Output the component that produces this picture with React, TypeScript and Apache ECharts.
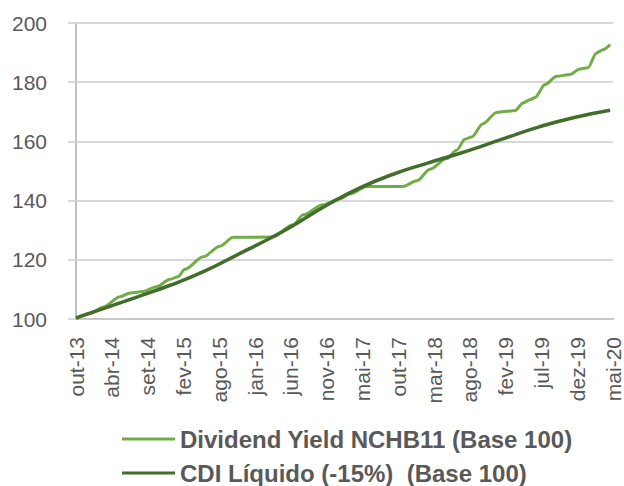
import React, { useEffect, useRef } from "react";
import * as echarts from "echarts";

const xLabels = [
  "out-13", "abr-14", "set-14", "fev-15", "ago-15", "jan-16", "jun-16", "nov-16",
  "mai-17", "out-17", "mar-18", "ago-18", "fev-19", "jul-19", "dez-19", "mai-20",
];

const yTicks = { min: 100, max: 200, step: 20 };

const seriesNames = ["Dividend Yield NCHB11 (Base 100)", "CDI Líquido (-15%)  (Base 100)"];

// [position on the label axis, value]
const dividendYield: [number, number][] = [
  [0, 100], [0.39, 101.9], [0.76, 104.0], [1.23, 107.5], [1.51, 108.8], [1.87, 109.3],
  [2.25, 110.9], [2.63, 113.4], [2.85, 114.3], [3.04, 116.8], [3.55, 121], [4.02, 124.6],
  [4.39, 127.6], [5.5, 127.7], [6.06, 131.8], [6.35, 135.2], [6.9, 138.6], [7.37, 140.6],
  [7.65, 142.2], [8.12, 144.8], [9.13, 144.8], [9.52, 146.7], [9.89, 150.6], [10.35, 154.2],
  [10.63, 157.0], [10.87, 160.8], [11.05, 161.5], [11.37, 166.0], [11.75, 169.8],
  [12.03, 170.2], [12.26, 170.4], [12.49, 173], [12.68, 174.1], [12.82, 174.8],
  [13.1, 179.2], [13.43, 182], [13.8, 182.6], [14.08, 184.5], [14.3, 184.9],
  [14.54, 189.9], [14.72, 191], [14.92, 192.7],
];

const cdiLiquido: [number, number][] = [
  [0, 100.4], [0.76, 103.5], [1.7, 107.4], [2.63, 111.4], [3.56, 116.0], [4.49, 121.6],
  [5.42, 127.3], [6.07, 131.6], [7.0, 138.4], [7.93, 144.3], [8.86, 148.9], [9.8, 152.6],
  [10.73, 156.0], [11.38, 158.6], [12.03, 161.3], [12.96, 165.0], [13.89, 168.0],
  [14.92, 170.5],
];

const colors = ["#70AD47", "#426D2A"];

export default function App() {
  const ref = useRef<HTMLDivElement>(null);
  useEffect(() => {
    const chart = echarts.init(ref.current!, null, { renderer: "svg" });
    const font = "'Liberation Sans', Arial, sans-serif";
    const legendBase = {
      orient: "horizontal",
      left: 122,
      padding: 0,
      itemWidth: 53,
      itemHeight: 3,
      icon: "rect",
      textStyle: {
        fontSize: 24,
        lineHeight: 24,
        fontWeight: "bold",
        color: "#595959",
        fontFamily: font,
      },
    };
    chart.setOption({
      animation: false,
      backgroundColor: "#ffffff",
      grid: { left: 76, right: 11, top: 23, bottom: 167, containLabel: false },
      xAxis: {
        type: "value",
        min: 0,
        max: xLabels.length - 1,
        interval: 1,
        axisLine: { show: true, lineStyle: { color: "#C8C8C8", width: 2 } },
        axisTick: { show: false },
        splitLine: { show: false },
        axisLabel: {
          rotate: 90,
          margin: 18,
          fontSize: 21,
          color: "#595959",
          fontFamily: font,
          formatter: (v: number) => xLabels[Math.round(v)] ?? "",
        },
      },
      yAxis: {
        type: "value",
        min: yTicks.min,
        max: yTicks.max,
        interval: yTicks.step,
        axisLine: { show: true, lineStyle: { color: "#C0C0C0", width: 2 } },
        axisTick: { show: true, length: 8, lineStyle: { color: "#D9D9D9", width: 2 } },
        splitLine: { show: true, lineStyle: { color: "#D9D9D9", width: 2 } },
        axisLabel: { margin: 29, fontSize: 21, color: "#595959", fontFamily: font },
      },
      legend: [
        { ...legendBase, top: 427, data: [seriesNames[0]] },
        { ...legendBase, top: 461, data: [seriesNames[1]] },
      ],
      series: [
        {
          name: seriesNames[0],
          type: "line",
          data: dividendYield,
          showSymbol: false,
          smooth: 0.3,
          smoothMonotone: "x",
          lineStyle: { color: colors[0], width: 3 },
          itemStyle: { color: colors[0] },
        },
        {
          name: seriesNames[1],
          type: "line",
          data: cdiLiquido,
          showSymbol: false,
          smooth: true,
          lineStyle: { color: colors[1], width: 3.5 },
          itemStyle: { color: colors[1] },
        },
      ],
    });
    return () => chart.dispose();
  }, []);
  return <div ref={ref} style={{ position: "fixed", left: 0, top: 0, width: 624, height: 486 }} />;
}
